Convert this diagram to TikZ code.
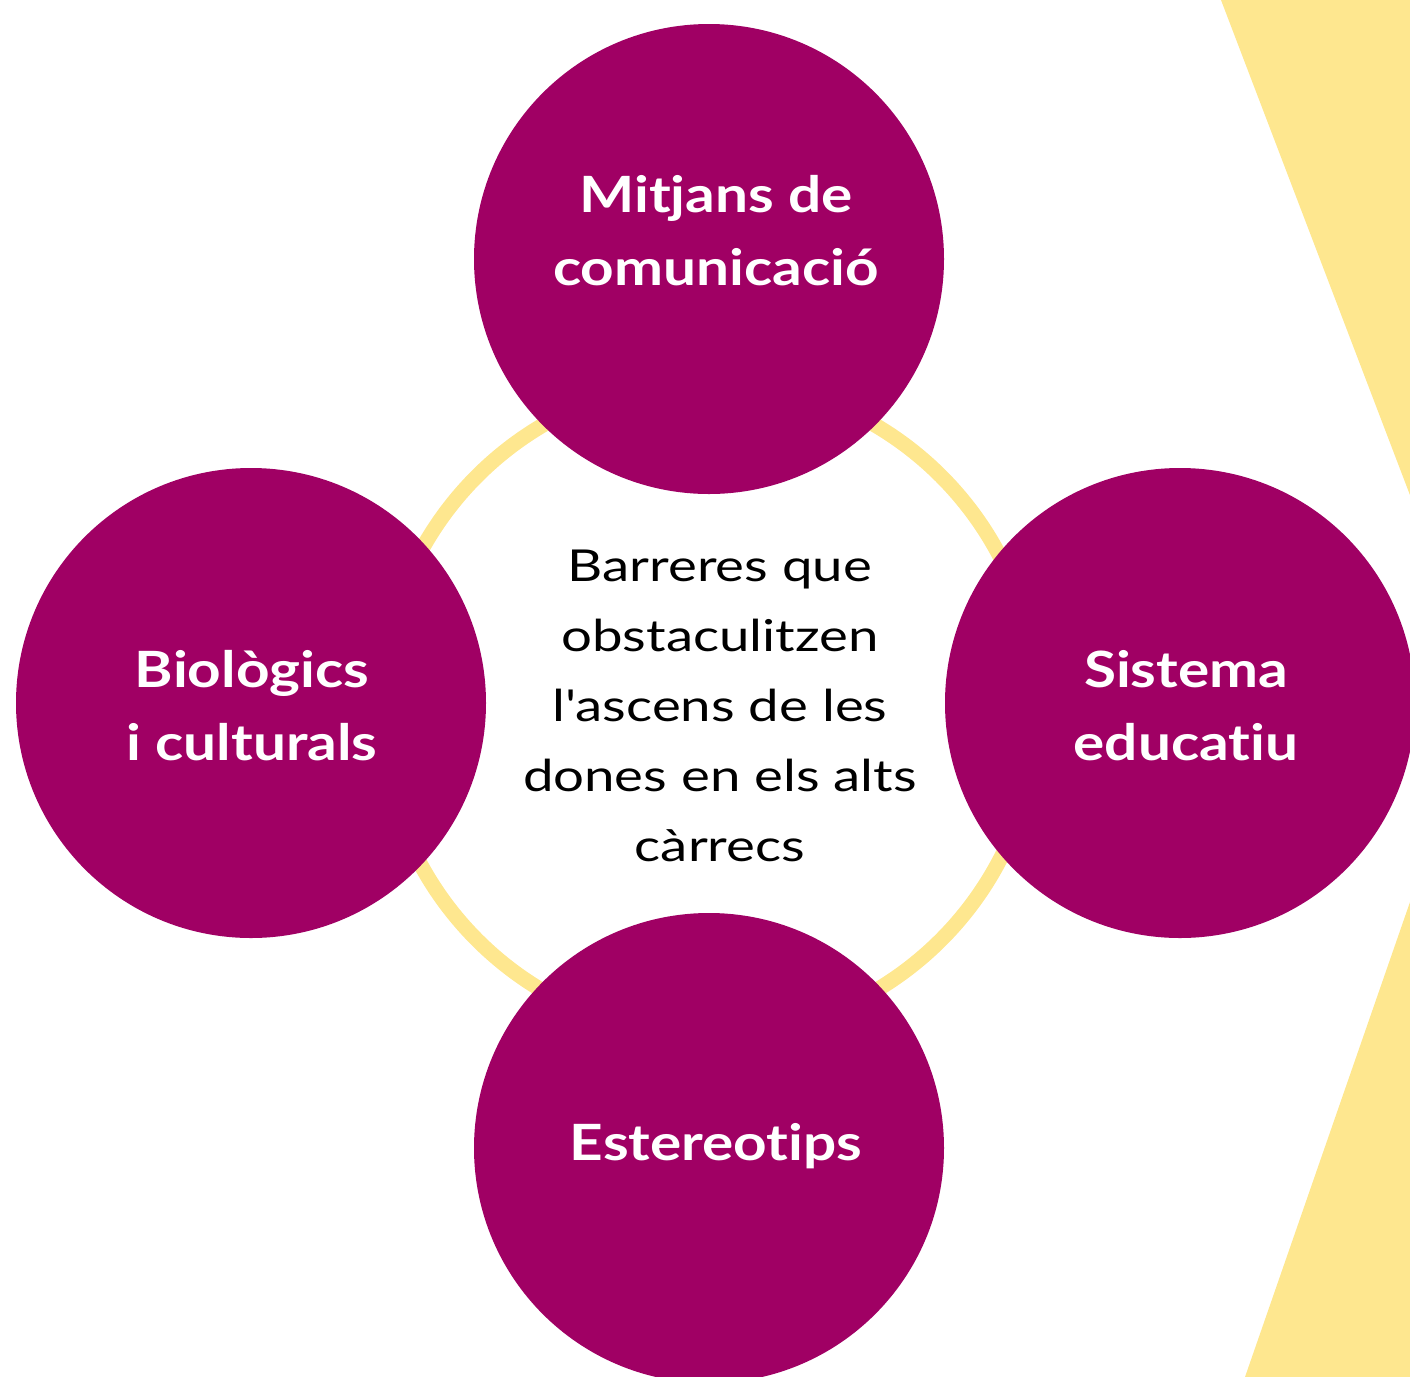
\documentclass[tikz,border=0pt]{standalone}
\usepackage{fontspec}
\setmainfont{Lato}
\newfontfamily\tagfont[FakeStretch=1.17, Ligatures={NoCommon}]{Lato}
\newfontfamily\hubfont[FakeStretch=1.24, Ligatures={NoCommon}]{Lato}
\usetikzlibrary{calc}
\definecolor{plum}{HTML}{A00064}
\definecolor{butter}{HTML}{FEE78F}

\begin{document}
\begin{tikzpicture}[x=0.5pt,y=-0.5pt,
    blob/.style={circle, fill=plum, minimum size=235pt, inner sep=0pt},
    tag/.style={text=white, align=center, font=\tagfont\fontsize{25}{36.5}\selectfont\bfseries},
    hub/.style={text=black, align=center, font=\hubfont\fontsize{22}{35}\selectfont}
  ]
     \useasboundingbox (0,0) rectangle (1410,1377);
     \clip (0,0) rectangle (1410,1377);
    % yellow chevron on the right
     \fill[butter] (1221,0) -- (1410,0) -- (1410,1377) -- (1245,1377) -- (1484,689) -- cycle;
    % the ring behind
     \coordinate (mid) at (709,708);
     \draw[butter, line width=7.5pt] (mid) circle (164pt);

     \node[blob] (mitjans)     at (709,259)  {};
     \node[blob] (biologics)   at (251,703)  {};
     \node[blob] (sistema)     at (1180,703) {};
     \node[blob] (estereotips) at (709,1148) {};

     \node[tag] (mitjans-t)     at (716,231)  {Mitjans de\\comunicació};
     \node[tag] (biologics-t)   at (252,706)  {Biològics\\i culturals};
     \node[tag] (sistema-t)     at (1186,706) {Sistema\\educatiu};
     \node[tag] (estereotips-t) at (716,1146) {Estereotips};

     \node[hub] (barreres) at (720,706) {Barreres que\\obstaculitzen\\l'ascens de les\\dones en els alts\\càrrecs};

\end{tikzpicture}
\end{document}
